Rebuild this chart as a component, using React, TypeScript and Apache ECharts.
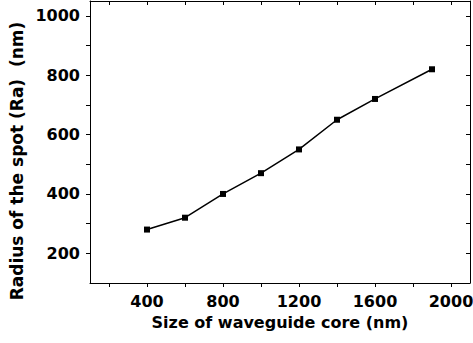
import React, { useEffect, useRef } from "react";
import * as echarts from "echarts";

const coreSize = [400, 600, 800, 1000, 1200, 1400, 1600, 1900];
const spotRadius = [280, 320, 400, 470, 550, 650, 720, 820];
const xTickValues = [200, 400, 600, 800, 1000, 1200, 1400, 1600, 1800, 2000];
const xLabelValues = [400, 800, 1200, 1600, 2000];
const yTickValues = [200, 300, 400, 500, 600, 700, 800, 900, 1000];
const yLabelValues = [200, 400, 600, 800, 1000];
const xTitle = "Size of waveguide core (nm)";
const yTitle = "Radius of the spot (Ra)  (nm)";

const FONT = "'DejaVu Sans', sans-serif";

export default function App() {
  const ref = useRef<HTMLDivElement>(null);
  useEffect(() => {
    if (!ref.current) return;
    const chart = echarts.init(ref.current, undefined, { renderer: "svg" });
    const axisLine = { show: true, lineStyle: { color: "#000", width: 1 } };
    const label = { color: "#000", fontFamily: FONT, fontWeight: "bold" as const, fontSize: 16 };
    const fmt = (v: number) => String(v);
    chart.setOption({
      animation: false,
      backgroundColor: "#fff",
      grid: { left: 90, right: 3, top: 1, bottom: 60, containLabel: false, outerBoundsMode: "none" },
      graphic: [
        {
          type: "text",
          x: 17,
          y: 161,
          rotation: Math.PI / 2,
          style: {
            text: yTitle,
            fill: "#000",
            font: `bold 17px ${FONT}`,
            align: "center",
            verticalAlign: "middle",
          },
        },
      ],
      xAxis: [
        {
          type: "value",
          min: 100,
          max: 2100,
          position: "bottom",
          axisLine,
          axisTick: { show: true, inside: false, length: 4, customValues: xTickValues, lineStyle: { color: "#000" } },
          axisLabel: { ...label, margin: 10, customValues: xLabelValues, formatter: fmt },
          splitLine: { show: false },
          name: xTitle,
          nameLocation: "middle",
          nameGap: 31,
          nameTextStyle: { ...label },
        },
        {
          type: "value",
          min: 100,
          max: 2100,
          position: "top",
          axisLine,
          axisTick: { show: true, inside: true, length: 4, customValues: xTickValues, lineStyle: { color: "#000" } },
          axisLabel: { show: false },
          splitLine: { show: false },
        },
      ],
      yAxis: [
        {
          type: "value",
          min: 100,
          max: 1050,
          position: "left",
          axisLine,
          axisTick: { show: true, inside: false, length: 4, customValues: yTickValues, lineStyle: { color: "#000" } },
          axisLabel: { ...label, margin: 10, customValues: yLabelValues, formatter: fmt },
          splitLine: { show: false },
        },
        {
          type: "value",
          min: 100,
          max: 1050,
          position: "right",
          axisLine,
          axisTick: { show: true, inside: true, length: 4, customValues: yTickValues, lineStyle: { color: "#000" } },
          axisLabel: { show: false },
          splitLine: { show: false },
        },
      ],
      series: [
        {
          type: "line",
          xAxisIndex: 0,
          yAxisIndex: 0,
          data: coreSize.map((x, i) => [x, spotRadius[i]]),
          symbol: "rect",
          symbolSize: 6,
          lineStyle: { color: "#000", width: 1.5 },
          itemStyle: { color: "#000" },
        },
      ],
    });
    return () => chart.dispose();
  }, []);
  return <div ref={ref} style={{ width: 473, height: 343, position: "absolute", left: 0, top: 0 }} />;
}
